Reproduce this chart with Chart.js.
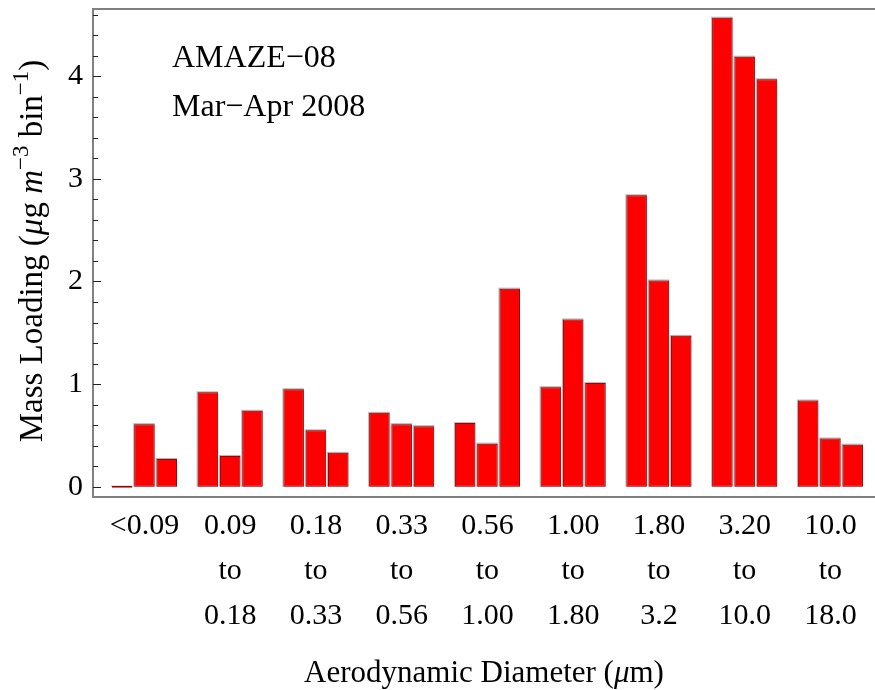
<!DOCTYPE html>
<html>
<head>
<meta charset="utf-8">
<script src="https://cdn.jsdelivr.net/npm/chart.js@4.4.0/dist/chart.umd.min.js"></script>
<style>
html, body { margin: 0; padding: 0; background: #fff; }
#wrap { width: 875px; height: 690px; position: relative; }
</style>
</head>
<body>
<div id="wrap"><canvas id="massChart"></canvas></div>
<script>
// size bins (aerodynamic diameter, um)
var sizeBins = [
    ['<0.09'],
    ['0.09', 'to', '0.18'],
    ['0.18', 'to', '0.33'],
    ['0.33', 'to', '0.56'],
    ['0.56', 'to', '1.00'],
    ['1.00', 'to', '1.80'],
    ['1.80', 'to', '3.2'],
    ['3.20', 'to', '10.0'],
    ['10.0', 'to', '18.0']
];
// mass loading, three bars per bin
var barsA = [0.00, 0.92, 0.95, 0.72, 0.62, 0.97, 2.84, 4.57, 0.84];
var barsB = [0.61, 0.30, 0.55, 0.61, 0.42, 1.63, 2.01, 4.19, 0.47];
var barsC = [0.27, 0.74, 0.33, 0.59, 1.93, 1.01, 1.47, 3.97, 0.41];
var yTicks = [0, 1, 2, 3, 4];

var SERIF = '"Liberation Serif", "Times New Roman", serif';

function points(vals) {
    return vals.map(function (v, i) { return { x: i, y: v }; });
}

function barSet(vals) {
    return {
        data: points(vals),
        backgroundColor: '#ff0000',
        borderColor: '#a00000',
        borderWidth: 1,
        borderSkipped: false,
        minBarLength: 2,
        barPercentage: 0.92,
        categoryPercentage: 0.78
    };
}

function drawRich(ctx, segs, cx, baseY) {
    var w = 0;
    segs.forEach(function (s) { ctx.font = s.font; w += ctx.measureText(s.t).width; });
    var x = cx - w / 2;
    segs.forEach(function (s) {
        ctx.font = s.font;
        ctx.fillText(s.t, x, baseY + (s.dy || 0));
        x += ctx.measureText(s.t).width;
    });
}

var rm = '31px ' + SERIF, it = 'italic 31px ' + SERIF;
var yrm = '33px ' + SERIF, yit = 'italic 33px ' + SERIF, ysup = '23px ' + SERIF;

// frame top line, inside ticks, bar halo, titles and annotation
var decor = {
    id: 'decor',
    beforeDatasetsDraw: function (chart) {
        var ctx = chart.ctx;
        ctx.save();
        ctx.fillStyle = '#b8b8b8';
        chart.data.datasets.forEach(function (ds, di) {
            chart.getDatasetMeta(di).data.forEach(function (bar) {
                var p = bar.getProps(['x', 'y', 'base', 'width'], true);
                ctx.fillRect(p.x - p.width / 2 - 1, p.y - 1, p.width + 1, p.base - p.y + 1);
            });
        });
        ctx.restore();
    },
    afterDraw: function (chart) {
        var ctx = chart.ctx, a = chart.chartArea, ys = chart.scales.y;
        ctx.save();
        ctx.strokeStyle = '#808080';
        ctx.lineWidth = 2;
        ctx.beginPath();
        ctx.moveTo(a.left - 1, a.top);
        ctx.lineTo(chart.width, a.top);
        ctx.stroke();

        ctx.strokeStyle = '#222';
        ctx.lineWidth = 1;
        ctx.beginPath();
        for (var v = 0; v <= ys.max + 1e-9; v += 0.2) {
            var yy = Math.round(ys.getPixelForValue(v)) + 0.5;
            var major = Math.abs(v - Math.round(v)) < 1e-6;
            ctx.moveTo(a.left, yy);
            ctx.lineTo(a.left + (major ? 8 : 5), yy);
        }
        ctx.stroke();

        ctx.fillStyle = '#000';
        ctx.textAlign = 'left';
        ctx.textBaseline = 'alphabetic';
        ctx.font = '32px ' + SERIF;
        ctx.fillText('AMAZE\u221208', 172, 67);
        ctx.fillText('Mar\u2212Apr 2008', 172, 116);

        drawRich(ctx, [
            { t: 'Aerodynamic Diameter (', font: rm },
            { t: '\u03bc', font: it },
            { t: 'm)', font: rm }
        ], (a.left + a.right) / 2, 682);

        ctx.translate(42, 251);
        ctx.rotate(-Math.PI / 2);
        drawRich(ctx, [
            { t: 'Mass Loading (', font: yrm },
            { t: '\u03bc', font: yit },
            { t: 'g ', font: yrm },
            { t: 'm', font: yit },
            { t: '\u22123', font: ysup, dy: -14 },
            { t: ' bin', font: yrm },
            { t: '\u22121', font: ysup, dy: -14 },
            { t: ')', font: yrm }
        ], 0, 0);
        ctx.restore();
    }
};

var ctx = document.getElementById('massChart').getContext('2d');
var chart = new Chart(ctx, {
    type: 'bar',
    data: {
        datasets: [barSet(barsA), barSet(barsB), barSet(barsC)]
    },
    options: {
        responsive: true,
        maintainAspectRatio: false,
        animation: false,
        layout: { padding: { top: 9, left: 0, right: 0, bottom: 0 } },
        plugins: { legend: { display: false }, tooltip: { enabled: false } },
        scales: {
            x: {
                type: 'linear',
                offset: false,
                min: -0.6,
                max: 8.52,
                afterBuildTicks: function (s) {
                    s.ticks = sizeBins.map(function (_, i) { return { value: i }; });
                },
                afterFit: function (s) {
                    s.height = 193;
                    s.paddingLeft = 0;
                    s.paddingRight = 0;
                },
                grid: { display: false, drawTicks: false },
                border: { display: true, color: '#808080', width: 2 },
                ticks: {
                    autoSkip: false,
                    maxRotation: 0,
                    padding: 7,
                    color: '#000',
                    font: { family: SERIF, size: 30, lineHeight: 1.5 },
                    callback: function (v) { return sizeBins[v]; }
                }
            },
            y: {
                min: -0.1,
                max: 4.655,
                afterBuildTicks: function (s) {
                    s.ticks = yTicks.map(function (v) { return { value: v }; });
                },
                afterFit: function (s) {
                    s.width = 93;
                    s.paddingTop = 0;
                    s.paddingBottom = 0;
                },
                grid: { display: false, drawTicks: false },
                border: { display: true, color: '#808080', width: 2 },
                ticks: {
                    padding: 10,
                    color: '#000',
                    font: { family: SERIF, size: 30 }
                }
            }
        }
    },
    plugins: [decor]
});
</script>
</body>
</html>
